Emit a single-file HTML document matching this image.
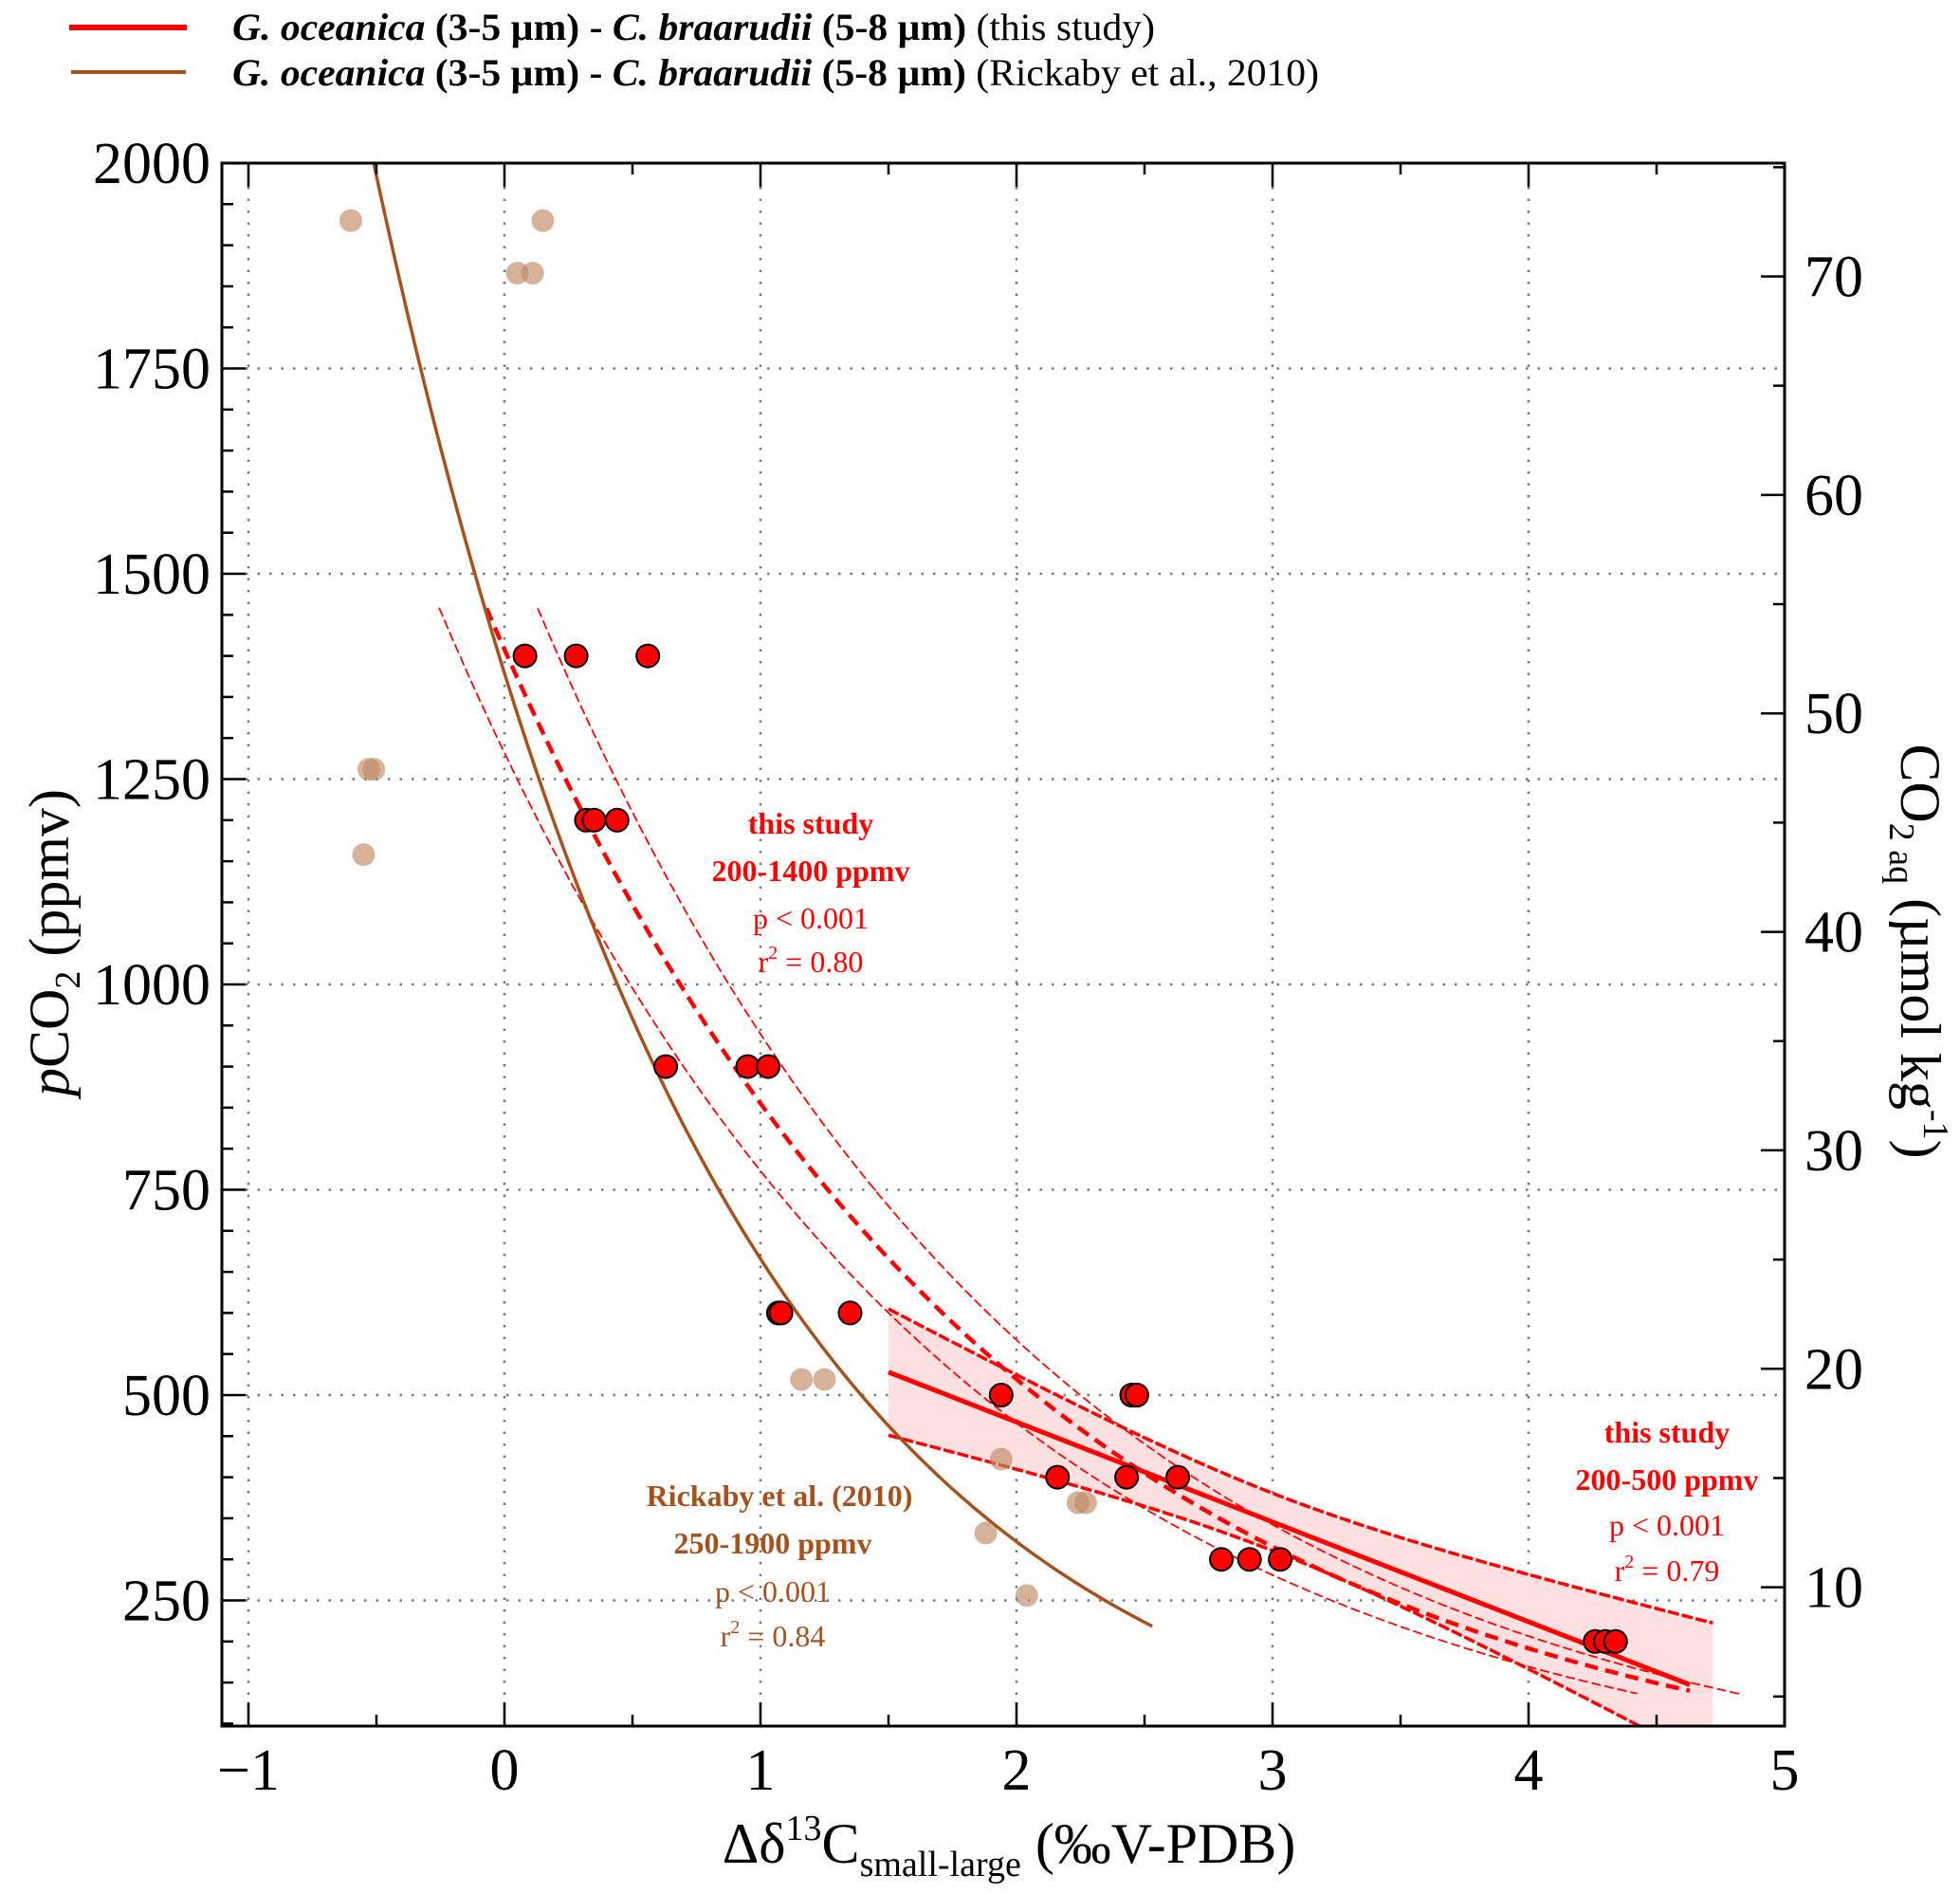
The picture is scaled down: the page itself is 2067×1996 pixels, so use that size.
<!DOCTYPE html>
<html><head><meta charset="utf-8"><style>
html,body{margin:0;padding:0;background:#fff;}
svg{display:block;font-family:"Liberation Serif",serif;}
</style></head><body>
<svg id="chart" width="2067" height="1996" viewBox="0 0 2067 1996" xmlns="http://www.w3.org/2000/svg">
<g>
<line x1="73" y1="29" x2="197" y2="29" stroke="#ff0000" stroke-width="6"/>
<line x1="75" y1="76" x2="196" y2="76" stroke="#a5521f" stroke-width="4"/>
<text x="245" y="42" font-size="40" textLength="973" lengthAdjust="spacingAndGlyphs"><tspan font-weight="bold" font-style="italic">G. oceanica</tspan><tspan font-weight="bold"> (3-5 µm) - </tspan><tspan font-weight="bold" font-style="italic">C. braarudii</tspan><tspan font-weight="bold"> (5-8 µm)</tspan> (this study)</text>
<text x="245" y="90" font-size="40" textLength="1146" lengthAdjust="spacingAndGlyphs"><tspan font-weight="bold" font-style="italic">G. oceanica</tspan><tspan font-weight="bold"> (3-5 µm) - </tspan><tspan font-weight="bold" font-style="italic">C. braarudii</tspan><tspan font-weight="bold"> (5-8 µm)</tspan> (Rickaby et al., 2010)</text>
</g>
<g id="grid"></g>
<defs><clipPath id="plotclip"><rect x="234" y="172" width="1648" height="1648"/></clipPath></defs>
<g id="fits" clip-path="url(#plotclip)"></g>
<g id="pts"></g>
<g id="axes"></g>
<text x="1064" y="1964" font-size="60" text-anchor="middle">Δδ<tspan font-size="38" dy="-24">13</tspan><tspan dy="24">C</tspan><tspan font-size="38" dy="14">small-large</tspan><tspan dy="-14"> (‰V-PDB)</tspan></text>
<text transform="translate(72,994) rotate(-90)" font-size="60" text-anchor="middle"><tspan font-style="italic">p</tspan>CO<tspan font-size="38" dy="12">2</tspan><tspan dy="-12"> (ppmv)</tspan></text>
<text transform="translate(2005,1003) rotate(90)" font-size="60" text-anchor="middle">CO<tspan font-size="38" dy="12">2 aq</tspan><tspan dy="-12"> (µmol kg</tspan><tspan font-size="38" dy="-24">-1</tspan><tspan dy="24">)</tspan></text>
<g fill="#ff0000" font-size="32" text-anchor="middle">
<text x="855" y="879" font-weight="bold">this study</text>
<text x="855" y="929" font-weight="bold">200-1400 ppmv</text>
<text x="855" y="979">p &lt; 0.001</text>
<text x="855" y="1025">r<tspan font-size="20" dy="-14">2</tspan><tspan dy="14"> = 0.80</tspan></text>
</g>
<g fill="#a5521f" font-size="32" text-anchor="middle">
<text x="822" y="1588" font-weight="bold">Rickaby et al. (2010)</text>
<text x="815" y="1638" font-weight="bold">250-1900 ppmv</text>
<text x="815" y="1689">p &lt; 0.001</text>
<text x="815" y="1736">r<tspan font-size="20" dy="-14">2</tspan><tspan dy="14"> = 0.84</tspan></text>
</g>
<g fill="#ff0000" font-size="32" text-anchor="middle">
<text x="1758" y="1521" font-weight="bold">this study</text>
<text x="1758" y="1571" font-weight="bold">200-500 ppmv</text>
<text x="1758" y="1619">p &lt; 0.001</text>
<text x="1758" y="1667">r<tspan font-size="20" dy="-14">2</tspan><tspan dy="14"> = 0.79</tspan></text>
</g>
</svg>
<script>
// ---- data ----
const redX = [0.08,0.28,0.56,0.32,0.35,0.44,0.63,0.95,1.03,1.07,1.08,1.35,1.94,2.45,2.47,2.16,2.43,2.63,2.80,2.91,3.03,4.26,4.30,4.34];
const redY = [1400,1400,1400,1200,1200,1200,900,900,900,600,600,600,500,500,500,400,400,400,300,300,300,200,200,200];
const tanX = [-0.60,0.15,0.05,0.11,-0.53,-0.51,-0.55,1.16,1.25,1.94,2.24,2.27,1.88,2.04];
const tanY = [1930,1930,1866,1866,1262,1262,1158,519,519,422,369,369,332,256];
const xTicks = [-1,0,1,2,3,4,5];
const yTicks = [250,500,750,1000,1250,1500,1750,2000];
const rTicks = [10,20,30,40,50,60,70];
// fit parameters: exponential y=a*exp(-b x) [a,b,xStart,xEnd]
const rickabyFit = [1379,0.728,-0.51,2.54];
const studyFit = [1408,0.4986,-0.07,4.63];
const studyUpper = [1557,0.505,0.13,4.83];
const studyLower = [1282,0.506,-0.255,4.43];
// linear fit 200-500: y = c0 + c1 x ; band half-width sqrt(k0^2+(k1(x-xc))^2)
const linFit = [710.4,-121.6,1.5,4.63];
const linBand = [35,45.7,3.0,1.5,4.72];
const ppmPerCO2 = 26.6;

// ---- scales ----
const L=234,T=172,R=1882,B=1820;
const xs = v => 532 + 270*v;
const ys = v => 172 + (2000 - v)*0.866;
const NS="http://www.w3.org/2000/svg";
function mk(tag, parent, attrs){const e=document.createElementNS(NS,tag);for(const k in attrs)e.setAttribute(k,attrs[k]);parent.appendChild(e);return e;}
const grid=document.getElementById('grid'), axes=document.getElementById('axes'), fits=document.getElementById('fits'), pts=document.getElementById('pts');

// grid
xTicks.forEach(v=>{ const l=mk('line',grid,{x1:xs(v),x2:xs(v),y1:T,y2:B,stroke:'#777','stroke-width':2.5,'stroke-dasharray':'2.5 10'});

});
yTicks.forEach(v=>{ const l=mk('line',grid,{x1:L,x2:R,y1:ys(v),y2:ys(v),stroke:'#777','stroke-width':2.5,'stroke-dasharray':'2.5 10'});

});

// fits
function expPath(p,step){let d='';for(let x=p[2];x<=p[3]+1e-9;x+=step){const y=p[0]*Math.exp(-p[1]*x);d+=(d?'L':'M')+xs(x).toFixed(1)+','+ys(y).toFixed(1);}return d;}
(function(){let up='',lo=[];for(let x=linBand[3];x<=linBand[4]+1e-9;x+=0.02){const c=linFit[0]+linFit[1]*x;const hw=Math.sqrt(linBand[0]**2+(linBand[1]*(x-linBand[2]))**2);up+=(up?'L':'M')+xs(x).toFixed(1)+','+ys(c+hw).toFixed(1);lo.push(xs(x).toFixed(1)+','+ys(c-hw).toFixed(1));}
const f=mk('path',fits,{d:up+'L'+lo.reverse().join('L')+'Z',fill:'#ffe0e0',stroke:'none'});


let u2='',l2='';for(let x=linBand[3];x<=linBand[4]+1e-9;x+=0.02){const c=linFit[0]+linFit[1]*x;const hw=Math.sqrt(linBand[0]**2+(linBand[1]*(x-linBand[2]))**2);u2+=(u2?'L':'M')+xs(x).toFixed(1)+','+ys(c+hw).toFixed(1);l2+=(l2?'L':'M')+xs(x).toFixed(1)+','+ys(c-hw).toFixed(1);}
const bu=mk('path',fits,{d:u2,fill:'none',stroke:'#ff0000','stroke-width':3.5,'stroke-dasharray':'12 3'});


const bl=mk('path',fits,{d:l2,fill:'none',stroke:'#ff0000','stroke-width':3.5,'stroke-dasharray':'12 3'});


})();
const pu=mk('path',fits,{d:expPath(studyUpper,0.02),fill:'none',stroke:'#ff0000','stroke-width':1.8,'stroke-dasharray':'10 4'});


const pl=mk('path',fits,{d:expPath(studyLower,0.02),fill:'none',stroke:'#ff0000','stroke-width':1.8,'stroke-dasharray':'10 4'});


const pm=mk('path',fits,{d:expPath(studyFit,0.02),fill:'none',stroke:'#ff0000','stroke-width':4.5,'stroke-dasharray':'14 8'});


const lm=mk('line',fits,{x1:xs(linFit[2]),y1:ys(linFit[0]+linFit[1]*linFit[2]),x2:xs(linFit[3]),y2:ys(linFit[0]+linFit[1]*linFit[3]),stroke:'#ff0000','stroke-width':5});


const rk=mk('path',fits,{d:expPath(rickabyFit,0.02),fill:'none',stroke:'#a5521f','stroke-width':3.5});



// points
tanX.forEach((x,i)=>{const c=mk('circle',pts,{cx:xs(x),cy:ys(tanY[i]),r:12,fill:'#c08866','fill-opacity':0.65});

});
redX.forEach((x,i)=>{const c=mk('circle',pts,{cx:xs(x),cy:ys(redY[i]),r:12,fill:'#ff0000',stroke:'#000','stroke-width':2});

});

// axes frame and ticks
const fr=mk('rect',axes,{x:L,y:T,width:R-L,height:B-T,fill:'none',stroke:'#000','stroke-width':3});


for(let v=-1;v<=5.001;v+=0.5){const maj=Math.abs(v-Math.round(v))<1e-6;const len=maj?25:12;
mk('line',axes,{x1:xs(v),x2:xs(v),y1:B,y2:B-len,stroke:'#000','stroke-width':2.5});
mk('line',axes,{x1:xs(v),x2:xs(v),y1:T,y2:T+len,stroke:'#000','stroke-width':2.5});}
for(let v=100;v<=2000;v+=50){const maj=v%250===0;const len=maj?25:12;
mk('line',axes,{x1:L,x2:L+len,y1:ys(v),y2:ys(v),stroke:'#000','stroke-width':2.5});}
for(let v=5;v<=75;v+=5){const y=ys(v*ppmPerCO2);if(y<T||y>B)continue;const len=v%10===0?25:12;
mk('line',axes,{x1:R,x2:R-len,y1:y,y2:y,stroke:'#000','stroke-width':2.5});}
xTicks.forEach(v=>{const t=mk('text',axes,{x:xs(v),y:1887,'font-size':62,'text-anchor':'middle'});t.textContent=v<0?'\u2212'+Math.abs(v):String(v);

});
yTicks.forEach(v=>{const t=mk('text',axes,{x:222,y:ys(v)+21,'font-size':62,'text-anchor':'end'});t.textContent=String(v);

});
rTicks.forEach(v=>{const t=mk('text',axes,{x:1903,y:ys(v*ppmPerCO2)+21,'font-size':62,'text-anchor':'start'});t.textContent=String(v);

});
</script>
</body></html>
